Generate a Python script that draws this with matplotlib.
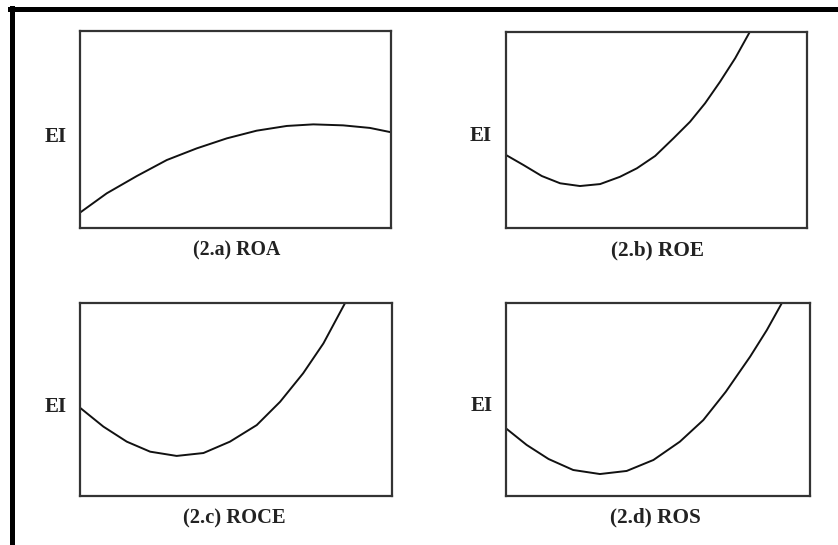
import matplotlib.pyplot as plt
from matplotlib.lines import Line2D

# curve points, x and y as fraction of each panel
roa_x = [0.0, 0.086, 0.183, 0.279, 0.375, 0.472, 0.568, 0.665, 0.750, 0.846, 0.932, 1.0]
roa_y = [0.078, 0.176, 0.264, 0.345, 0.404, 0.455, 0.494, 0.518, 0.526, 0.521, 0.508, 0.486]

roe_x = [0.0, 0.058, 0.119, 0.180, 0.246, 0.313, 0.379, 0.435, 0.496, 0.557, 0.612, 0.662, 0.712, 0.762, 0.811]
roe_y = [0.373, 0.322, 0.266, 0.229, 0.215, 0.225, 0.262, 0.305, 0.368, 0.458, 0.542, 0.636, 0.746, 0.865, 1.0]

roce_x = [0.0, 0.075, 0.150, 0.225, 0.310, 0.396, 0.481, 0.567, 0.642, 0.716, 0.781, 0.850]
roce_y = [0.458, 0.360, 0.282, 0.230, 0.208, 0.223, 0.282, 0.368, 0.489, 0.637, 0.792, 1.0]

ros_x = [0.0, 0.068, 0.140, 0.221, 0.309, 0.397, 0.485, 0.572, 0.649, 0.723, 0.803, 0.858, 0.907]
ros_y = [0.351, 0.265, 0.192, 0.135, 0.114, 0.130, 0.187, 0.282, 0.394, 0.541, 0.723, 0.861, 1.0]

captions = ["(2.a) ROA", "(2.b) ROE", "(2.c) ROCE", "(2.d) ROS"]
y_label = "EI"

plt.rcParams["font.family"] = ["Liberation Serif", "DejaVu Serif"]

fig = plt.figure(figsize=(8.38, 5.45), dpi=100)

# left, bottom, width, height in figure fractions
boxes = [
    [0.0955, 0.5817, 0.3711, 0.3614],
    [0.6038, 0.5811, 0.3589, 0.3607],
    [0.0955, 0.0899, 0.3719, 0.3536],
    [0.6038, 0.0899, 0.3628, 0.3536],
]
label_pos = [(0.0668, 0.749), (0.574, 0.750), (0.0668, 0.253), (0.575, 0.255)]
caption_pos = [(0.2822, 0.541), (0.7852, 0.541), (0.2793, 0.048), (0.7817, 0.051)]
caption_size = [14.3, 15.3, 14.8, 15.3]
curves = [(roa_x, roa_y), (roe_x, roe_y), (roce_x, roce_y), (ros_x, ros_y)]

for box, (cx, cy), (lx, ly), (tx, ty), cap, fs in zip(boxes, curves, label_pos, caption_pos, captions, caption_size):
    ax = fig.add_axes(box)
    ax.plot(cx, cy, color="#111111", linewidth=1.4, solid_joinstyle="round")
    ax.set_xlim(0, 1)
    ax.set_ylim(0, 1)
    ax.set_xticks([])
    ax.set_yticks([])
    for spine in ax.spines.values():
        spine.set_linewidth(1.6)
        spine.set_color("#333333")
    fig.text(lx, ly, y_label, ha="center", va="center", fontsize=15, fontweight="bold", color="#222222")
    fig.text(tx, ty, cap, ha="center", va="center", fontsize=fs, fontweight="bold", color="#222222")

# thick black border on the top and left edge
fig.add_artist(Line2D([0.0149, 0.0149], [0.0, 0.9851], transform=fig.transFigure, color="black", linewidth=3.6))
fig.add_artist(Line2D([0.012, 1.0], [0.9835, 0.9835], transform=fig.transFigure, color="black", linewidth=3.6))

fig.savefig("out.png", dpi=100)
plt.close(fig)
